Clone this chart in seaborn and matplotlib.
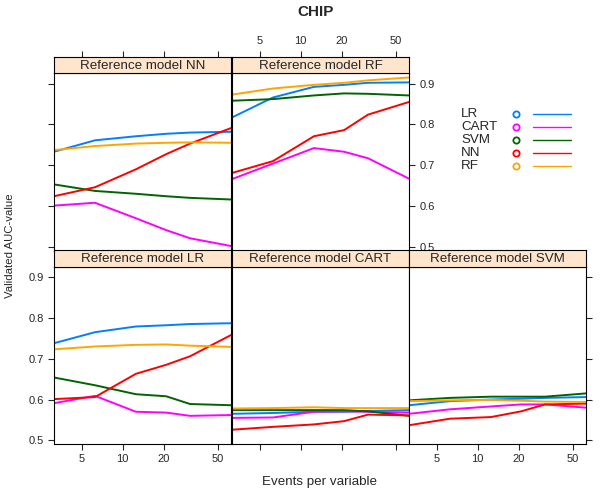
import numpy as np
import pandas as pd
import seaborn as sns
from matplotlib import pyplot as plt
from matplotlib.ticker import FixedLocator, NullLocator, FixedFormatter

sns.set_style("white")
plt.rcParams['font.family'] = ['Liberation Sans', 'DejaVu Sans']

# 数据
epv = [3.125, 6.25, 12.5, 20.83, 31.25, 62.5]
methods = ["LR", "CART", "SVM", "NN", "RF"]
colors = ["#0080ff", "#ff00ff", "darkgreen", "#ff0000", "orange"]

# rows: LR, CART, SVM, NN, RF
auc_ref_nn = [[0.733, 0.761, 0.771, 0.777, 0.780, 0.782],
              [0.601, 0.608, 0.570, 0.541, 0.521, 0.502],
              [0.653, 0.637, 0.630, 0.624, 0.620, 0.616],
              [0.624, 0.646, 0.690, 0.727, 0.753, 0.791],
              [0.737, 0.747, 0.753, 0.755, 0.756, 0.755]]
auc_ref_rf = [[0.817, 0.866, 0.892, 0.897, 0.902, 0.903],
              [0.666, 0.704, 0.742, 0.733, 0.717, 0.667],
              [0.858, 0.862, 0.871, 0.876, 0.875, 0.871],
              [0.681, 0.710, 0.771, 0.786, 0.824, 0.855],
              [0.873, 0.888, 0.897, 0.902, 0.908, 0.915]]
auc_ref_lr = [[0.738, 0.765, 0.779, 0.782, 0.785, 0.787],
              [0.591, 0.609, 0.570, 0.568, 0.560, 0.562],
              [0.654, 0.635, 0.613, 0.608, 0.589, 0.586],
              [0.601, 0.606, 0.663, 0.685, 0.706, 0.758],
              [0.723, 0.730, 0.734, 0.735, 0.732, 0.729]]
auc_ref_cart = [[0.565, 0.567, 0.570, 0.570, 0.572, 0.574],
                [0.555, 0.556, 0.570, 0.571, 0.570, 0.568],
                [0.574, 0.574, 0.574, 0.574, 0.571, 0.560],
                [0.526, 0.533, 0.539, 0.547, 0.563, 0.561],
                [0.578, 0.579, 0.581, 0.579, 0.579, 0.579]]
auc_ref_svm = [[0.586, 0.596, 0.600, 0.602, 0.604, 0.606],
               [0.565, 0.576, 0.583, 0.588, 0.588, 0.580],
               [0.598, 0.604, 0.607, 0.607, 0.607, 0.615],
               [0.537, 0.553, 0.557, 0.571, 0.588, 0.590],
               [0.596, 0.598, 0.599, 0.597, 0.595, 0.594]]

xticks = [5, 10, 20, 50]
yticks = [0.5, 0.6, 0.7, 0.8, 0.9]

W, H = 600, 491
fig = plt.figure(figsize=(6, 4.91), dpi=100)

# 面板位置(像素): 名称, 数据, 左, 顶, 刻度设置
panels = [
    ("Reference model NN", auc_ref_nn, 54, 73,
     dict(left=True, labelleft=False, top=True, labeltop=False, right=False, bottom=False)),
    ("Reference model RF", auc_ref_rf, 232, 73,
     dict(left=False, top=True, labeltop=True, right=True, labelright=True, bottom=False)),
    ("Reference model LR", auc_ref_lr, 54, 266.5,
     dict(left=True, labelleft=True, bottom=True, labelbottom=True, right=False, top=False)),
    ("Reference model CART", auc_ref_cart, 232, 266.5,
     dict(left=False, bottom=True, labelbottom=False, right=False, top=False)),
    ("Reference model SVM", auc_ref_svm, 409, 266.5,
     dict(left=False, bottom=True, labelbottom=True, right=True, labelright=False, top=False)),
]
pw, ph, sh = 177, 177.5, 16.5

def px2fig(x, y, w, h):
    return [x / W, 1 - (y + h) / H, w / W, h / H]

for title, vals, x0, y0, tk in panels:
    rows = []
    for m, v in zip(methods, vals):
        for e, a in zip(epv, v):
            rows.append((m, e, a))
    df = pd.DataFrame(rows, columns=['method', 'epv', 'auc'])

    ax = fig.add_axes(px2fig(x0, y0, pw, ph))
    sns.lineplot(data=df, x='epv', y='auc', hue='method', hue_order=methods,
                 palette=colors, legend=False, ax=ax, linewidth=1.4)
    ax.set_xscale('log')
    ax.set_xlim(epv[0], epv[-1])
    ax.set_ylim(0.491, 0.926)
    ax.xaxis.set_major_locator(FixedLocator(xticks))
    ax.xaxis.set_major_formatter(FixedFormatter([str(t) for t in xticks]))
    ax.xaxis.set_minor_locator(NullLocator())
    ax.set_yticks(yticks)
    ax.set_yticklabels([f'{t:.1f}' for t in yticks])
    ax.set_xlabel('')
    ax.set_ylabel('')
    ax.tick_params(direction='out', length=4.5, width=0.8, pad=3, labelsize=8,
                   labelleft=False, labelright=False, labeltop=False, labelbottom=False)
    ax.tick_params(top=False, labeltop=False)
    tk_axis = {k: v for k, v in tk.items() if k not in ('top', 'labeltop')}
    ax.tick_params(**tk_axis)
    for s in ax.spines.values():
        s.set_color('black')
        s.set_linewidth(0.8)

    # strip
    sax = fig.add_axes(px2fig(x0, y0 - sh, pw, sh), sharex=ax)
    sax.set_facecolor('#ffe5cc')
    sax.set_ylim(0, 1)
    sax.set_yticks([])
    sax.tick_params(axis='x', direction='out', length=4.5, width=0.8, pad=3, labelsize=8,
                    bottom=False, labelbottom=False,
                    top=tk.get('top', False), labeltop=tk.get('labeltop', False))
    sax.text(0.5, 0.45, title, transform=sax.transAxes, ha='center', va='center', fontsize=9.6)
    for s in sax.spines.values():
        s.set_color('black')
        s.set_linewidth(0.8)

# 图例
lax = fig.add_axes([0, 0, 1, 1])
lax.set_xlim(0, W)
lax.set_ylim(H, 0)
lax.axis('off')
for i, (m, c) in enumerate(zip(methods, colors)):
    y = 114.3 + i * 13
    lax.text(461, y, m, ha='left', va='center', fontsize=9.6)
    lax.plot([516], [y], marker='o', markersize=4.5, markerfacecolor='none',
             markeredgecolor=c, markeredgewidth=1.3)
    lax.plot([533, 571], [y, y], color=c, linewidth=1.0)

fig.text(316 / W, 1 - 12 / H, 'CHIP', ha='center', va='center', fontsize=11, fontweight='bold')
fig.text(320 / W, 1 - 482 / H, 'Events per variable', ha='center', va='center', fontsize=9.6)
fig.text(10 / W, 1 - 246 / H, 'Validated AUC-value', ha='center', va='center',
         rotation=90, fontsize=8.2)

plt.savefig('out.png', dpi=100)
